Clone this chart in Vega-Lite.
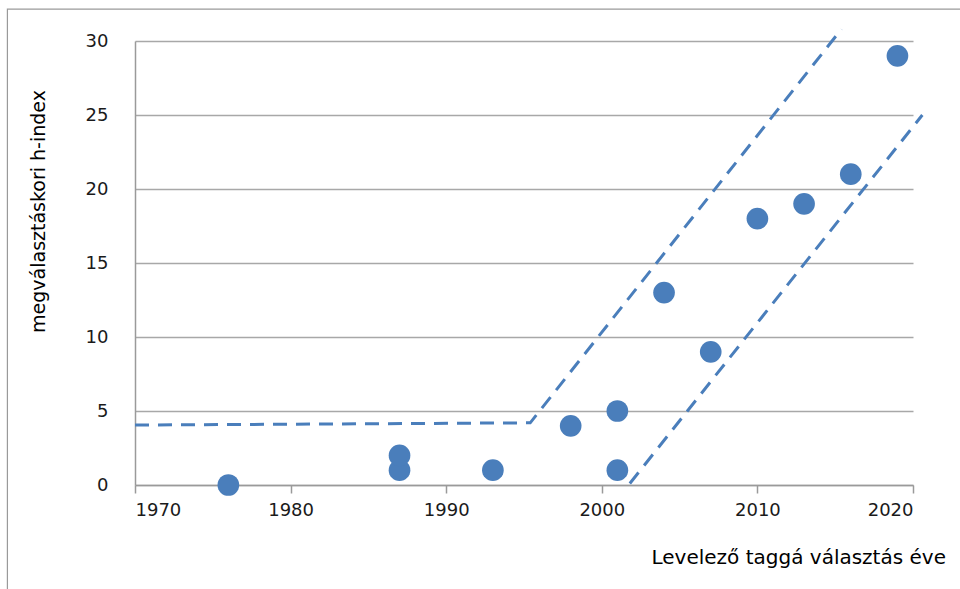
{
  "$schema": "https://vega.github.io/schema/vega-lite/v6.json",
  "width": 778,
  "height": 444,
  "autosize": {"type": "none"},
  "padding": {"left": 135, "top": 41, "right": 47, "bottom": 104},
  "background": "white",
  "config": {
    "view": {"stroke": null},
    "font": "DejaVu Sans"
  },
  "datasets": {
    "points": [
      {"year": 1976, "h": 0},
      {"year": 1987, "h": 1},
      {"year": 1987, "h": 2},
      {"year": 1993, "h": 1},
      {"year": 1998, "h": 4},
      {"year": 2001, "h": 5},
      {"year": 2001, "h": 1},
      {"year": 2004, "h": 13},
      {"year": 2007, "h": 9},
      {"year": 2010, "h": 18},
      {"year": 2013, "h": 19},
      {"year": 2016, "h": 21},
      {"year": 2019, "h": 29}
    ],
    "bounds": [
      {"line": "upper", "order": 1, "year": 1970, "h": 4.05},
      {"line": "upper", "order": 2, "year": 1995.4, "h": 4.2},
      {"line": "upper", "order": 3, "year": 2015.4, "h": 30.8},
      {"line": "lower", "order": 1, "year": 2001.8, "h": 0.1},
      {"line": "lower", "order": 2, "year": 2020.6, "h": 25.0}
    ],
    "frame": [
      {"x1": 1961.8, "x2": 2035, "y1": 32.15, "y2": -12}
    ]
  },
  "layer": [
    {
      "data": {"name": "frame"},
      "mark": {"type": "rect", "fill": null, "stroke": "#9a9a9a", "strokeWidth": 1.2},
      "encoding": {
        "x": {"field": "x1", "type": "quantitative", "scale": {"domain": [1970, 2020]}},
        "x2": {"field": "x2"},
        "y": {"field": "y1", "type": "quantitative", "scale": {"domain": [0, 30]}},
        "y2": {"field": "y2"}
      }
    },
    {
      "data": {"name": "points"},
      "mark": {"type": "point", "filled": true, "size": 470, "color": "#4a7ebb", "opacity": 1},
      "encoding": {
        "x": {
          "field": "year", "type": "quantitative",
          "scale": {"domain": [1970, 2020], "nice": false, "zero": false},
          "axis": {
            "values": [1970, 1980, 1990, 2000, 2010, 2020],
            "format": "d",
            "grid": false,
            "domainColor": "#9a9a9a",
            "domainWidth": 1.5,
            "tickColor": "#9a9a9a",
            "tickWidth": 1.5,
            "tickSize": 8,
            "labelPadding": 17,
            "labelBaseline": "middle",
            "labelFontSize": 18,
            "labelColor": "#1a1a1a",
            "title": "Levelező taggá választás éve",
            "titleFontSize": 20,
            "titleFontWeight": "normal",
            "titleColor": "#000000",
            "titleAlign": "left",
            "titleAnchor": null,
            "titleX": 516,
            "titleY": 72,
            "titleBaseline": "middle"
          }
        },
        "y": {
          "field": "h", "type": "quantitative",
          "scale": {"domain": [0, 30], "nice": false},
          "axis": {
            "values": [0, 5, 10, 15, 20, 25, 30],
            "grid": true,
            "gridColor": "#a8a8a8",
            "gridWidth": 1.5,
            "domainColor": "#9a9a9a",
            "domainWidth": 1.5,
            "ticks": false,
            "labelPadding": 27,
            "labelFontSize": 18,
            "labelColor": "#1a1a1a",
            "title": "megválasztáskori h-index",
            "titleFontSize": 19,
            "titleFontWeight": "normal",
            "titleColor": "#000000",
            "titleAngle": -90,
            "titleAnchor": null,
            "titleX": -97,
            "titleY": 170,
            "titleAlign": "center",
            "titleBaseline": "middle"
          }
        }
      }
    },
    {
      "data": {"name": "bounds"},
      "mark": {"type": "line", "color": "#4a7ebb", "strokeWidth": 3, "strokeDash": [14, 9]},
      "encoding": {
        "x": {"field": "year", "type": "quantitative"},
        "y": {"field": "h", "type": "quantitative"},
        "detail": {"field": "line"},
        "order": {"field": "order"}
      }
    }
  ]
}
